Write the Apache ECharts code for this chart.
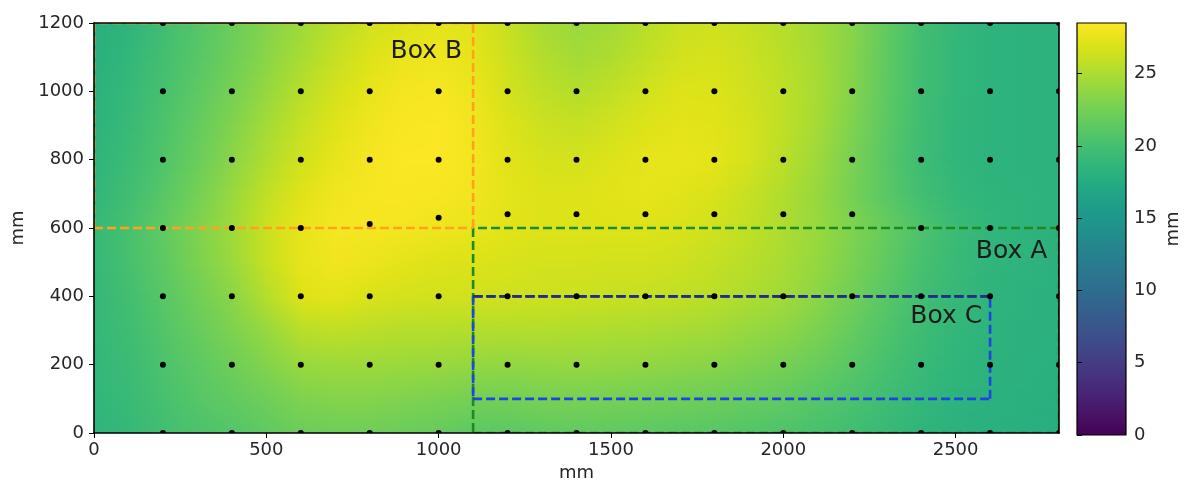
<!DOCTYPE html>
<html>
<head>
<meta charset="utf-8">
<script src="https://cdn.jsdelivr.net/npm/echarts@6/dist/echarts.min.js"></script>
<style>
  html, body { margin: 0; padding: 0; background: #ffffff; }
  #chart { width: 1185px; height: 487px; }
</style>
</head>
<body>
<div id="chart"></div>
<script>
// Node positions of the measured field (mm)
const xNodes = [0,100,200,300,400,500,600,700,800,900,1000,1100,1200,1300,1400,1500,1600,1700,1800,1900,2000,2100,2200,2300,2400,2500,2600,2700,2800];
const yNodes = [0,100,200,300,400,500,600,700,800,900,1000,1100,1200];

// Field values, one row per y node, left to right along x
const fieldY0    = [18.5,19.0,19.8,20.4,20.8,21.4,22.0,22.2,22.2,22.0,21.7,21.2,21.2,21.4,21.5,21.4,21.3,21.1,21.0,20.7,20.5,20.1,19.7,19.1,18.5,18.2,18.0,17.9,17.8];
const fieldY100  = [18.7,19.2,20.1,20.9,21.5,22.2,23.0,23.2,23.2,23.0,22.8,22.5,22.5,22.7,22.7,22.6,22.5,22.3,22.1,21.8,21.5,20.9,20.3,19.6,18.9,18.4,18.2,18.0,17.9];
const fieldY200  = [18.8,19.4,20.4,21.3,22.2,23.2,24.1,24.3,24.3,24.2,24.1,23.9,23.8,23.9,24.0,23.9,23.8,23.6,23.4,23.0,22.6,21.9,21.0,20.1,19.2,18.6,18.3,18.1,18.0];
const fieldY300  = [18.9,19.6,20.7,21.8,22.9,24.0,25.4,25.7,25.5,25.3,25.3,25.2,25.2,25.2,25.1,25.0,24.9,24.7,24.5,24.0,23.6,22.8,21.7,20.5,19.5,18.8,18.4,18.2,18.1];
const fieldY400  = [18.9,19.8,21.0,22.3,23.5,25.3,27.0,27.3,26.8,26.6,26.5,26.5,26.4,26.3,26.2,26.1,26.0,25.8,25.5,25.0,24.5,23.5,22.3,21.0,19.8,19.0,18.5,18.3,18.1];
const fieldY500  = [19.0,20.1,21.3,22.8,24.2,26.0,27.4,27.9,27.7,27.3,27.0,26.9,26.8,26.6,26.6,26.5,26.5,26.3,25.9,25.4,24.8,23.9,22.8,21.4,20.1,19.2,18.6,18.4,18.2];
const fieldY600  = [19.0,20.1,21.5,23.0,24.4,26.2,27.5,28.1,28.1,28.0,27.8,27.6,27.2,27.0,27.0,27.0,27.0,26.8,26.4,25.8,25.0,24.1,23.0,21.7,20.4,19.3,18.7,18.4,18.2];
const fieldY700  = [18.7,19.7,21.0,22.5,24.1,25.8,27.1,27.9,28.2,28.3,28.2,27.9,27.3,27.0,27.0,27.2,27.4,27.2,26.8,26.0,25.1,24.0,22.6,21.1,19.8,18.9,18.5,18.4,18.3];
const fieldY800  = [18.5,19.4,20.6,22.0,23.5,25.1,26.5,27.5,28.1,28.4,28.4,28.0,27.2,26.7,26.6,27.0,27.4,27.5,27.3,26.6,25.5,24.3,22.7,21.0,19.5,18.7,18.4,18.3,18.3];
const fieldY900  = [18.3,19.2,20.4,21.7,23.1,24.6,26.0,27.1,27.9,28.3,28.4,27.9,27.0,26.3,26.0,26.5,27.0,27.3,27.2,26.6,25.7,24.6,23.0,21.2,19.6,18.7,18.4,18.3,18.3];
const fieldY1000 = [18.2,19.0,20.1,21.3,22.6,24.0,25.4,26.6,27.5,28.1,28.2,27.7,26.6,25.7,25.3,25.8,26.5,27.0,27.0,26.4,25.7,24.7,23.2,21.3,19.7,18.8,18.4,18.3,18.3];
const fieldY1100 = [18.0,18.8,19.9,21.0,22.2,23.5,24.8,26.0,27.0,27.6,27.8,27.4,26.3,25.2,24.6,25.0,25.8,26.5,26.7,26.2,25.5,24.6,23.3,21.4,19.7,18.8,18.4,18.3,18.3];
const fieldY1200 = [17.9,18.5,19.7,20.8,22.0,23.2,24.3,25.5,26.5,27.0,27.3,27.2,26.0,24.8,24.2,24.6,25.4,26.2,26.4,26.0,25.3,24.5,23.3,21.5,19.8,18.9,18.4,18.3,18.3];
const fieldRows = [fieldY0,fieldY100,fieldY200,fieldY300,fieldY400,fieldY500,fieldY600,fieldY700,fieldY800,fieldY900,fieldY1000,fieldY1100,fieldY1200];

// Sensor positions
const sensorX = [200,400,600,800,1000,1200,1400,1600,1800,2000,2200,2400,2600,2800];
const sensorRowY = [0,200,400,800,1000,1200];
const sensorMidRowY = [600,600,600,612,630,640,640,640,640,640,640,600,600,600];

// Regions [xMin, yMin, xMax, yMax]
const boxA = [1100, 0, 2800, 600];
const boxB = [0, 600, 1100, 1200];
const boxC = [1100, 100, 2600, 400];
const boxLabels = ['Box B', 'Box A', 'Box C'];
const boxLabelAnchors = [[1068, 1116], [2766, 530], [2577, 342]];

// Colour scale
const colorMin = 0, colorMax = 28.5;
const colorTicks = [0, 5, 10, 15, 20, 25];
const xTicks = [0, 500, 1000, 1500, 2000, 2500];
const yTicks = [0, 200, 400, 600, 800, 1000, 1200];

const viridis = ['#440154','#471365','#482475','#463480','#414487','#3b528b','#355f8d','#2f6c8e','#2a788e','#25848e',
                 '#21918c','#1e9c89','#22a884','#2fb47c','#44bf70','#5ec962','#7ad151','#9bd93c','#bddf26','#dfe318','#fde725'];
const viridisRGB = viridis.map(h => [parseInt(h.slice(1,3),16), parseInt(h.slice(3,5),16), parseInt(h.slice(5,7),16)]);

function colorOf(v) {
  let t = (v - colorMin) / (colorMax - colorMin);
  t = Math.max(0, Math.min(1, t));
  const p = t * (viridisRGB.length - 1);
  const i = Math.min(viridisRGB.length - 2, Math.floor(p));
  const f = p - i;
  const a = viridisRGB[i], b = viridisRGB[i + 1];
  const c = [0,1,2].map(k => Math.round(a[k] + (b[k] - a[k]) * f));
  return 'rgb(' + c.join(',') + ')';
}

// One item per cell: corners and the four node values
const cellData = [];
for (let j = 0; j < yNodes.length - 1; j++) {
  for (let i = 0; i < xNodes.length - 1; i++) {
    cellData.push([xNodes[i], yNodes[j], xNodes[i+1], yNodes[j+1],
      fieldRows[j][i], fieldRows[j][i+1], fieldRows[j+1][i], fieldRows[j+1][i+1]]);
  }
}

const sensorData = [];
sensorRowY.forEach(y => sensorX.forEach(x => sensorData.push([x, y])));
sensorX.forEach((x, i) => sensorData.push([x, sensorMidRowY[i]]));

const FONT = 'DejaVu Sans';
const TXT = '#262626';

// Smoothly shaded cell: thin strips, each with a horizontal gradient
function renderCell(params, api) {
  const x0 = api.value(0), y0 = api.value(1), x1 = api.value(2), y1 = api.value(3);
  const v00 = api.value(4), v10 = api.value(5), v01 = api.value(6), v11 = api.value(7);
  const pa = api.coord([x0, y0]);
  const pb = api.coord([x1, y1]);
  const left = pa[0], right = pb[0], bottom = pa[1], top = pb[1];
  const H = bottom - top;
  const S = Math.max(1, Math.round(H / 2));
  const children = [];
  for (let k = 0; k < S; k++) {
    const t = (k + 0.5) / S;
    const vL = v00 + (v01 - v00) * t;
    const vR = v10 + (v11 - v10) * t;
    const yb = bottom - H * k / S;
    const yt = bottom - H * (k + 1) / S;
    children.push({
      type: 'rect', silent: true,
      shape: { x: left, y: yt - 0.6, width: right - left + 0.7, height: (yb - yt) + 1.2 },
      style: { fill: { type: 'linear', x: 0, y: 0, x2: 1, y2: 0, colorStops: [
        { offset: 0, color: colorOf(vL) },
        { offset: 0.5, color: colorOf((vL + vR) / 2) },
        { offset: 1, color: colorOf(vR) } ] } }
    });
  }
  return { type: 'group', children };
}

// Sensor dot, clipped to the plot frame
function renderSensor(params, api) {
  const p = api.coord([api.value(0), api.value(1)]);
  return { type: 'circle', silent: true, shape: { cx: p[0], cy: p[1], r: 3 }, style: { fill: '#000' } };
}

function dashedLine(api, a, b, color) {
  const p = api.coord(a), q = api.coord(b);
  return { type: 'line', silent: true,
    shape: { x1: p[0], y1: p[1], x2: q[0], y2: q[1] },
    style: { stroke: color, lineWidth: 2.6, lineDash: [9, 4] } };
}

function boxEdges(api, box, color) {
  const [x0, y0, x1, y1] = box;
  return [
    dashedLine(api, [x0, y0], [x1, y0], color),
    dashedLine(api, [x1, y0], [x1, y1], color),
    dashedLine(api, [x1, y1], [x0, y1], color),
    dashedLine(api, [x0, y1], [x0, y0], color)
  ];
}

function renderBoxes(params, api) {
  const children = [].concat(
    boxEdges(api, boxA, '#1f8a1f'),
    boxEdges(api, boxB, '#ffa31a'),
    boxEdges(api, boxC, '#1f45e0'),
    [dashedLine(api, [boxC[0], boxC[3]], [boxC[2], boxC[3]], '#24307a')]
  );
  return { type: 'group', children };
}

function renderBoxLabel(params, api) {
  const p = api.coord([api.value(0), api.value(1)]);
  return { type: 'text', silent: true, x: p[0], y: p[1],
    style: { text: boxLabels[params.dataIndex], fill: '#1c1c1c', font: '25px "DejaVu Sans"',
             align: 'right', verticalAlign: 'middle' } };
}

function renderColorbar(params, api) {
  const p0 = api.coord([0, api.value(0)]);
  const p1 = api.coord([1, api.value(1)]);
  const stops = viridis.map((c, i) => ({ offset: i / (viridis.length - 1), color: c }));
  return { type: 'rect', silent: true,
    shape: { x: p0[0], y: p1[1], width: p1[0] - p0[0], height: p0[1] - p1[1] },
    style: { fill: { type: 'linear', x: 0, y: 1, x2: 0, y2: 0, colorStops: stops },
             stroke: '#000', lineWidth: 1.2 } };
}

const chart = echarts.init(document.getElementById('chart'), null, { renderer: 'canvas' });

const plain = v => String(v);
const axisText = { fontFamily: FONT, fontSize: 18, color: TXT, formatter: plain };
const spine = { show: true, onZero: false, lineStyle: { color: '#000', width: 1.6 } };
const nameStyle = { fontFamily: FONT, fontSize: 18, color: TXT };

chart.setOption({
  backgroundColor: '#ffffff',
  animation: false,
  grid: [
    { left: 94, top: 23, width: 965, height: 412 },
    { left: 1077, top: 23, width: 49, height: 412 }
  ],
  xAxis: [
    { gridIndex: 0, type: 'value', min: 0, max: 2800, interval: 500, position: 'bottom', z: 5,
      axisLine: spine,
      axisTick: { show: true, length: 5, lineStyle: { color: '#000', width: 1 }, customValues: xTicks },
      axisLabel: Object.assign({ margin: 8, customValues: xTicks }, axisText),
      splitLine: { show: false },
      name: 'mm', nameLocation: 'middle', nameGap: 31, nameTextStyle: nameStyle },
    { gridIndex: 0, type: 'value', min: 0, max: 2800, position: 'top', z: 5,
      axisLine: spine, axisTick: { show: false }, axisLabel: { show: false }, splitLine: { show: false } },
    { gridIndex: 1, type: 'value', min: 0, max: 1, show: false }
  ],
  yAxis: [
    { gridIndex: 0, type: 'value', min: 0, max: 1200, interval: 200, position: 'left', z: 5,
      axisLine: spine,
      axisTick: { show: true, length: 5, lineStyle: { color: '#000', width: 1 }, customValues: yTicks },
      axisLabel: Object.assign({ margin: 10, customValues: yTicks }, axisText),
      splitLine: { show: false },
      name: 'mm', nameLocation: 'middle', nameGap: 66, nameRotate: 90, nameTextStyle: nameStyle },
    { gridIndex: 0, type: 'value', min: 0, max: 1200, position: 'right', z: 5,
      axisLine: spine, axisTick: { show: false }, axisLabel: { show: false }, splitLine: { show: false } },
    { gridIndex: 1, type: 'value', min: colorMin, max: colorMax, position: 'right', z: 5,
      axisLine: { show: false },
      axisTick: { show: true, length: 5, lineStyle: { color: '#000', width: 1 }, customValues: colorTicks },
      axisLabel: Object.assign({ margin: 8, customValues: colorTicks }, axisText),
      splitLine: { show: false },
      name: 'mm', nameLocation: 'middle', nameGap: 38, nameRotate: 90, nameTextStyle: nameStyle }
  ],
  series: [
    { type: 'custom', name: 'field', xAxisIndex: 0, yAxisIndex: 0, z: 1, clip: true,
      renderItem: renderCell, data: cellData, encode: { x: [0, 2], y: [1, 3] }, silent: true },
    { type: 'custom', name: 'regions', xAxisIndex: 0, yAxisIndex: 0, z: 3, clip: true,
      renderItem: renderBoxes, data: [[0, 0]], silent: true },
    { type: 'custom', name: 'sensors', xAxisIndex: 0, yAxisIndex: 0, z: 4, clip: true,
      renderItem: renderSensor, data: sensorData, encode: { x: 0, y: 1 }, silent: true },
    { type: 'custom', name: 'labels', xAxisIndex: 0, yAxisIndex: 0, z: 6,
      renderItem: renderBoxLabel, data: boxLabelAnchors, silent: true },
    { type: 'custom', name: 'colorbar', xAxisIndex: 2, yAxisIndex: 2, z: 1,
      renderItem: renderColorbar, data: [[colorMin, colorMax]], silent: true }
  ]
});
</script>
</body>
</html>
